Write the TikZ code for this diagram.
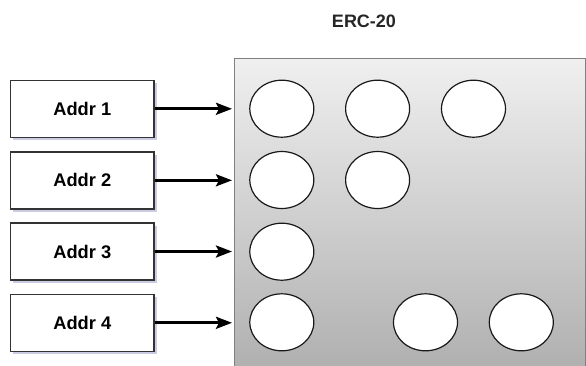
\documentclass[tikz,border=0pt]{standalone}
\usepackage{fontspec}
\setmainfont{Liberation Sans}
\usetikzlibrary{shapes.geometric,shadows,arrows.meta}
\begin{document}
\begin{tikzpicture}[x=1pt,y=-1pt,
  addrbox/.style={draw=black!80, line width=1.5pt, fill=white, minimum width=143.5pt, minimum height=57pt,
    inner sep=0pt, font=\bfseries\fontsize{18.3}{21}\selectfont,
    drop shadow={shadow xshift=2.5pt, shadow yshift=-3pt, opacity=0.45, fill=blue!30!gray!70}},
  token/.style={ellipse, draw=black!90, line width=1.2pt, fill=white, minimum width=64pt, minimum height=57pt, inner sep=0pt},
  arr/.style={line width=2.8pt, -{Stealth[length=16pt,width=12pt,inset=3pt]}}
]
\useasboundingbox (0,0) rectangle (586,365);
\node[draw=black!50, line width=1pt, top color=black!6, bottom color=black!31, minimum width=351pt, minimum height=310pt, inner sep=0pt] (erc) at (409.5,213) {};
\node[font=\bfseries\fontsize{18}{21}\selectfont, text=black!85] (title) at (364,21) {ERC-20};
\node[addrbox] (a1) at (82.3,108.8) {Addr 1};
\node[addrbox] (a2) at (82.3,180.3) {Addr 2};
\node[addrbox] (a3) at (82.3,251.5) {Addr 3};
\node[addrbox] (a4) at (82.3,322.8) {Addr 4};
\node[token] (c11) at (281.8,108.7) {};
\node[token] (c12) at (377.6,108.7) {};
\node[token] (c13) at (473.5,108.7) {};
\node[token] (c21) at (281.8,180) {};
\node[token] (c22) at (377.6,180) {};
\node[token] (c31) at (281.8,251.7) {};
\node[token] (c41) at (281.8,322.3) {};
\node[token] (c42) at (425.5,322.3) {};
\node[token] (c43) at (521.3,322.3) {};
\foreach \i in {1,2,3,4}{
  \draw[arr] (a\i.east) -- ([xshift=-1.5pt]a\i.east -| erc.west);
}
\end{tikzpicture}
\end{document}
